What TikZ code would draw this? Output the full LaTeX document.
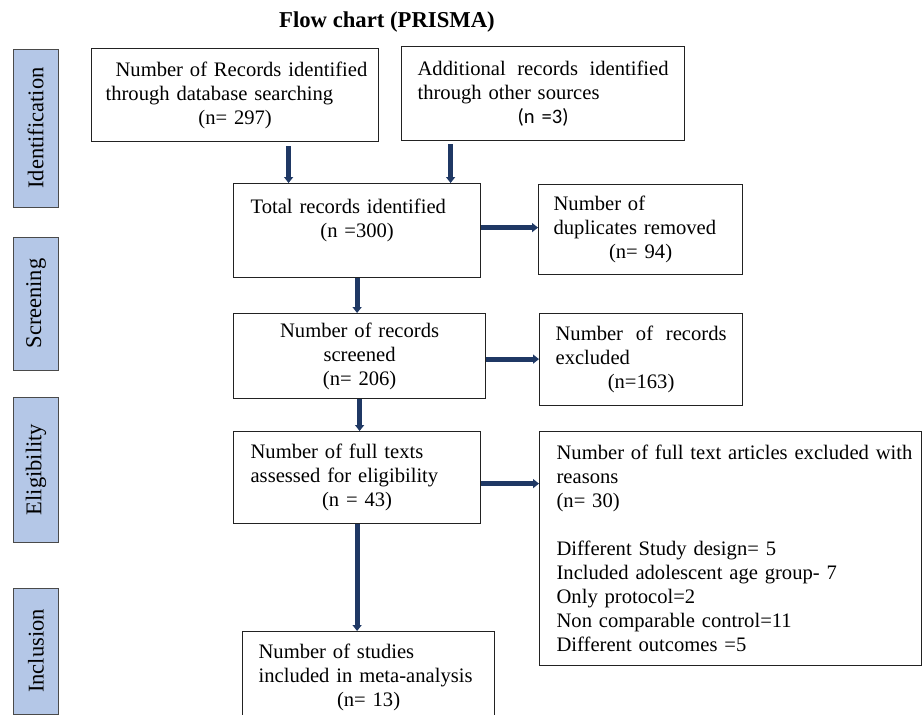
\documentclass[tikz,border=0pt]{standalone}
\usepackage{fontspec}
\setmainfont{Liberation Serif}
\newfontfamily\calibrifont{Carlito}
\usetikzlibrary{arrows.meta, positioning, calc}
\definecolor{phaseblue}{HTML}{B4C7E7}
\definecolor{phaseline}{HTML}{4A4A4A}
\definecolor{boxline}{HTML}{222222}
\definecolor{flownavy}{HTML}{1F3864}
\tikzset{
  box/.style={draw=boxline, line width=1.2pt, anchor=north west, align=left, inner xsep=16pt, inner ysep=0pt, font=\fontsize{20.6}{24}\selectfont},
  phase/.style={draw=phaseline, line width=1pt, fill=phaseblue, rotate=90, inner sep=0pt, minimum height=45pt, font=\fontsize{22.5}{26}\selectfont},
  flow/.style={draw=flownavy, line width=5pt, -{Triangle[width=9pt,length=6pt]}},
}

\begin{document}
\begin{tikzpicture}[x=1pt, y=-1pt]
  \useasboundingbox (0,0) rectangle (922,715);
  \node[font=\bfseries\fontsize{22.7}{26}\selectfont] (heading) at (387,22) {Flow chart (PRISMA)};

  \node[phase, minimum width=158pt] (ident) at (35.5,128) {Identification};
  \node[phase, minimum width=133pt] (screen) at (36,303.5) {Screening};
  \node[phase, minimum width=145pt] (elig) at (36,469.5) {Eligibility};
  \node[phase, minimum width=126pt] (incl) at (36,651) {Inclusion};

  \node[box, text width=259pt, inner xsep=14pt, minimum height=93pt] (records) at (91,48) {\mbox{\hspace*{10pt}Number of Records identified}\\ through database searching\\ \makebox[\linewidth]{(n= 297)}};
  \node[box, text width=251pt, minimum height=94pt] (other) at (401,46) {\makebox[\linewidth][s]{Additional\hfill records\hfill identified}\\ through other sources\\ \makebox[\linewidth]{\calibrifont (n =3)}};
  \node[box, text width=213pt, inner xsep=17pt, minimum height=94pt] (total) at (233,183) {Total records identified\\ \makebox[\linewidth]{(n =300)}\\ \mbox{}};
  \node[box, text width=174pt, inner xsep=15pt, minimum height=90pt] (dupl) at (538,184) {Number of\\ duplicates removed\\ \makebox[\linewidth]{(n= 94)}};
  \node[box, text width=220pt, align=center, minimum height=85pt] (screened) at (233,313) {Number of records\\ screened\\ (n= 206)};
  \node[box, text width=171pt, minimum height=92pt] (excluded) at (539,313) {\makebox[\linewidth][s]{Number\hfill of\hfill records}\\ excluded\\ \makebox[\linewidth]{(n=163)}};
  \node[box, text width=213pt, inner xsep=17pt, minimum height=92pt] (fulltext) at (233,431) {Number of full texts\\ assessed for eligibility\\ \makebox[\linewidth]{(n = 43)}};
  \node[box, text width=348pt, inner xsep=17pt, minimum height=234pt] (reasons) at (539,431) {\mbox{Number of full text articles excluded with}\\ reasons\\ (n= 30)\\[24pt] Different Study design= 5\\ Included adolescent age group- 7\\ Only protocol=2\\ Non comparable control=11\\ Different outcomes =5};
  \node[box, text width=220pt, minimum height=92pt] (included) at (242,631) {Number of studies\\ included in meta-analysis\\ \makebox[\linewidth]{(n= 13)}};

  \draw[flow] ([xshift=53.5pt,yshift=-4pt]records.south) -- ([xshift=53.5pt]records.south |- total.north);
  \draw[flow] ([xshift=-92.5pt,yshift=-3pt]other.south) -- ([xshift=-92.5pt]other.south |- total.north);
  \draw[flow] ([yshift=3pt]total.east) -- ([yshift=3pt]total.east -| dupl.west);
  \draw[flow] (total.south) -- (total.south |- screened.north);
  \draw[flow] ([yshift=-3pt]screened.east) -- ([yshift=-3pt]screened.east -| excluded.west);
  \draw[flow] (screened.south) -- (screened.south |- fulltext.north);
  \draw[flow] ([yshift=-6pt]fulltext.east) -- ([yshift=-6pt]fulltext.east -| reasons.west);
  \draw[flow] (fulltext.south) -- (fulltext.south |- included.north);
\end{tikzpicture}
\end{document}
